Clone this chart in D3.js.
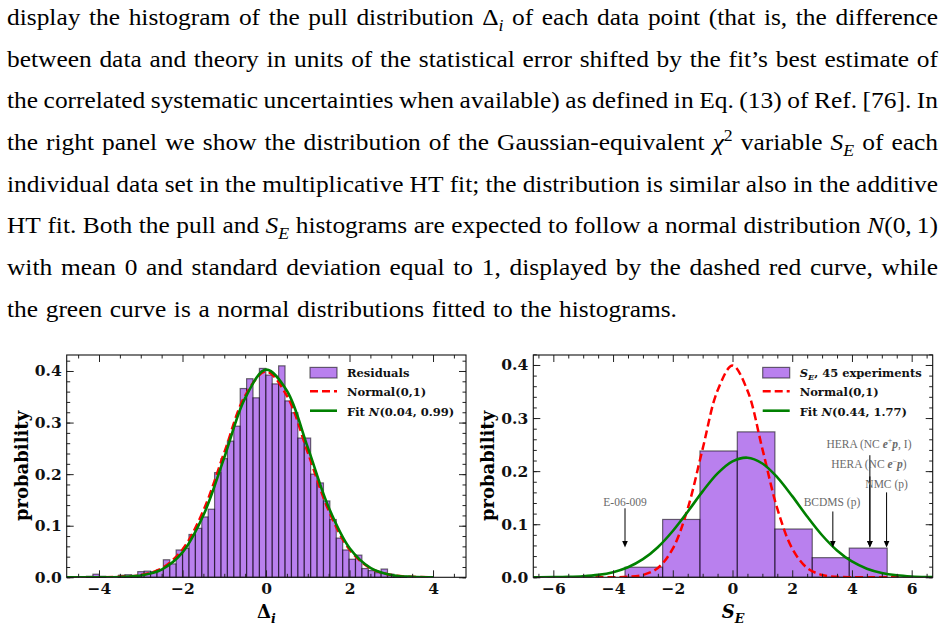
<!DOCTYPE html>
<html>
<head>
<meta charset="utf-8">
<script src="https://cdn.jsdelivr.net/npm/d3@7"></script>
<style>
  body { margin: 0; background: #fff; }
  svg { display: block; }
</style>
</head>
<body>
<svg id="page" width="945" height="629"></svg>
<script>
////////////////////////////////////////////////////////////////////////
// Values

// left panel: histogram of the pulls (density), 50 equal bins
let pullBinStart = -4.30;
let pullBinWidth = 0.1534;
let pullHeights = [
  0.002, 0.006, 0.002, 0.000, 0.000, 0.004, 0.005, 0.004, 0.011, 0.012,
  0.011, 0.015, 0.034, 0.026, 0.053, 0.056, 0.083, 0.095, 0.117, 0.132,
  0.203, 0.230, 0.264, 0.293, 0.366, 0.385, 0.348, 0.405, 0.392, 0.375,
  0.410, 0.342, 0.319, 0.270, 0.270, 0.200, 0.183, 0.148, 0.112, 0.076,
  0.053, 0.035, 0.043, 0.017, 0.013, 0.009, 0.016, 0.006, 0.003, 0.002
];

// right panel: S_E histogram of the 45 experiments
let seBinEdges = [-3.60, -2.34, -1.09, 0.16, 1.42, 2.67, 3.91, 5.18];
let seHeights = [0.019, 0.109, 0.238, 0.274, 0.091, 0.037, 0.055];

// curves, every 0.5
let pullCurveX = [-5, -4.5, -4, -3.5, -3, -2.5, -2, -1.5, -1, -0.5, 0,
                  0.5, 1, 1.5, 2, 2.5, 3, 3.5, 4];
let pullNormalY = [0, 0.00002, 0.0001, 0.0009, 0.0044, 0.0175, 0.054, 0.1295, 0.242, 0.352, 0.399,
                   0.352, 0.242, 0.1295, 0.054, 0.0175, 0.0044, 0.0009, 0.0001];
let pullFitY = [0, 0.00001, 0.0001, 0.0007, 0.0036, 0.015, 0.0482, 0.1202, 0.2321, 0.3473, 0.4027,
                0.3618, 0.2518, 0.1358, 0.0568, 0.0184, 0.0046, 0.0009, 0.0001];

let seCurveX = [-7, -6.5, -6, -5.5, -5, -4.5, -4, -3.5, -3, -2.5, -2, -1.5, -1, -0.5, 0,
                0.5, 1, 1.5, 2, 2.5, 3, 3.5, 4, 4.5, 5, 5.5, 6, 6.5, 7];
let seNormalY = [0, 0, 0, 0, 0, 0.00002, 0.0001, 0.0009, 0.0044, 0.0175, 0.054, 0.1295, 0.242, 0.352, 0.399,
                 0.352, 0.242, 0.1295, 0.054, 0.0175, 0.0044, 0.0009, 0.0001, 0.00002, 0, 0, 0, 0, 0];
let seFitY = [0.00003, 0.0001, 0.0003, 0.0008, 0.002, 0.0046, 0.0097, 0.0189, 0.0341, 0.0567, 0.0872,
              0.1236, 0.1619, 0.1958, 0.2185, 0.2253, 0.2144, 0.1884, 0.1529, 0.1145, 0.0792,
              0.0506, 0.0298, 0.0162, 0.0082, 0.0038, 0.0016, 0.0006, 0.0002];

// tick labels
let pullTicksX = [-4, -2, 0, 2, 4];
let seTicksX = [-6, -4, -2, 0, 2, 4, 6];
let probTicks = [0, 0.1, 0.2, 0.3, 0.4];

// legends
let pullLegend = ["Residuals", "Normal(0,1)", "Fit $N$(0.04, 0.99)"];
let seLegend = ["$S$_E, 45 experiments", "Normal(0,1)", "Fit $N$(0.44, 1.77)"];

// experiments marked with arrows in the S_E panel
let expLabels = ["E-06-009", "BCDMS (p)", "HERA (NC $e$^+$p$, I)", "HERA (NC $e$^−$p$)", "NMC (p)"];
let expX = [-3.6, 3.36, 4.6, 4.6, 5.16];
let expTextX = [-3.6, 3.33, 4.57, 4.57, 5.16];
let expTextY = [0.135, 0.135, 0.244, 0.205, 0.169];
let expTailY = [0.130, 0.124, 0.230, 0.190, 0.160];
let expTipY = 0.056;

// the paragraph above the figure
let textLines = [
  "display the histogram of the pull distribution Δ_i of each data point (that is, the difference",
  "between data and theory in units of the statistical error shifted by the fit’s best estimate of",
  "the correlated systematic uncertainties when available) as defined in Eq. (13) of Ref. [76]. In",
  "the right panel we show the distribution of the Gaussian-equivalent $χ$^2 variable $S$_E of each",
  "individual data set in the multiplicative HT fit; the distribution is similar also in the additive",
  "HT fit. Both the pull and $S$_E histograms are expected to follow a normal distribution $N$(0,~1)",
  "with mean 0 and standard deviation equal to 1, displayed by the dashed red curve, while",
  "the green curve is a normal distributions fitted to the histograms."
];

////////////////////////////////////////////////////////////////////////
// small helpers for "rich" text: $..$ italic, _x subscript, ^x superscript

function parseRich(s) {
  let segs = [];
  let ital = false;
  let i = 0;
  while (i < s.length) {
    let c = s[i];
    if (c === "$") { ital = !ital; i++; continue; }
    if (c === "_") { segs.push({t: s[i + 1], k: "sub"}); i += 2; continue; }
    if (c === "^") { segs.push({t: s[i + 1], k: "sup"}); i += 2; continue; }
    let t = c === "~" ? "\u2009" : c;
    let k = ital ? "it" : "rm";
    let last = segs[segs.length - 1];
    if (last && last.k === k) last.t += t;
    else segs.push({t: t, k: k});
    i++;
  }
  return segs;
}

function addRich(textSel, str, size, boldMath) {
  let shift = 0;
  parseRich(str).forEach(s => {
    let ts = textSel.append("tspan").text(s.t);
    let dy = 0;
    if (s.k === "sub") dy = size * 0.25;
    if (s.k === "sup") dy = -size * 0.4;
    ts.attr("dy", dy - shift);
    shift = dy;
    if (s.k === "sub" || s.k === "sup") ts.attr("font-size", size * 0.7);
    if (s.k === "it" || s.k === "sub") {
      ts.attr("font-style", "italic");
      if (boldMath) ts.attr("font-weight", "bold");
    }
  });
  return textSel;
}

let svg = d3.select("#page");

////////////////////////////////////////////////////////////////////////
// justified paragraph

let paraSize = 22.5;
let paraStretch = 1.13;   // Times is narrower than Computer Modern
let paraWidth = 931 / paraStretch;
let para = svg.append("g")
  .attr("transform", `translate(7,0) scale(${paraStretch},1)`)
  .attr("font-family", "Liberation Serif")
  .attr("font-size", paraSize)
  .attr("fill", "#000");

textLines.forEach((line, li) => {
  let words = line.split(" ");
  let y = 25 + li * 41.7;
  let nodes = words.map(w => addRich(para.append("text").attr("y", y), w, paraSize, false));
  let widths = nodes.map(n => n.node().getComputedTextLength());
  let gap = li < textLines.length - 1
    ? (paraWidth - d3.sum(widths)) / (words.length - 1)
    : paraSize * 0.3;
  let x = 0;
  nodes.forEach((n, i) => {
    n.attr("x", x);
    x += widths[i] + gap;
  });
});

////////////////////////////////////////////////////////////////////////
// one histogram panel

let purple = "#8a2be2";

function drawAxis(g, axis, transform) {
  let a = g.append("g").attr("transform", transform).call(axis);
  a.select(".domain").remove();
  a.attr("font-family", "DejaVu Serif").attr("font-size", 15.5).attr("font-weight", "bold");
  a.selectAll("line").attr("stroke", "#222").attr("stroke-width", 1);
  a.selectAll("text").attr("fill", "#111");
  return a;
}

function makePanel(cfg) {
  let x = d3.scaleLinear().domain(cfg.xDomain).range([cfg.left, cfg.right]);
  let y = d3.scaleLinear().domain(cfg.yDomain).range([cfg.bottom, cfg.top]);
  let g = svg.append("g");

  let clipId = cfg.id + "-clip";
  svg.append("clipPath").attr("id", clipId)
    .append("rect")
    .attr("x", cfg.left).attr("y", cfg.top)
    .attr("width", cfg.right - cfg.left).attr("height", cfg.bottom - cfg.top);

  // bars
  g.append("g")
    .selectAll("rect")
    .data(cfg.heights)
    .join("rect")
    .attr("x", (d, i) => x(cfg.edges[i]))
    .attr("width", (d, i) => x(cfg.edges[i + 1]) - x(cfg.edges[i]))
    .attr("y", d => y(d))
    .attr("height", d => y(0) - y(d))
    .attr("fill", purple).attr("fill-opacity", 0.6)
    .attr("stroke", "#000").attr("stroke-opacity", 0.55).attr("stroke-width", 1.2);

  // curves
  let line = d3.line()
    .x(d => x(d[0]))
    .y(d => y(d[1]))
    .curve(d3.curveCatmullRom);
  g.append("path")
    .datum(d3.zip(cfg.curveX, cfg.normalY))
    .attr("d", line)
    .attr("clip-path", `url(#${clipId})`)
    .attr("fill", "none").attr("stroke", "#ff0000")
    .attr("stroke-width", 2.5).attr("stroke-dasharray", "8,4");
  g.append("path")
    .datum(d3.zip(cfg.curveX, cfg.fitY))
    .attr("d", line)
    .attr("clip-path", `url(#${clipId})`)
    .attr("fill", "none").attr("stroke", "#008000")
    .attr("stroke-width", 2.6);

  // ticks on all four sides, pointing in
  let xMinor = d3.range(-7, 7.01, 0.5)
    .filter(v => !cfg.xTicks.includes(v) && v > cfg.xDomain[0] && v < cfg.xDomain[1]);
  let yMinor = d3.range(0, 0.44, 0.02);
  drawAxis(g, d3.axisBottom(x).tickValues(cfg.xTicks).tickSize(-7).tickPadding(6)
    .tickFormat(d3.format("d")), `translate(0,${cfg.bottom})`);
  drawAxis(g, d3.axisBottom(x).tickValues(xMinor).tickSize(-3.5).tickFormat(""), `translate(0,${cfg.bottom})`);
  drawAxis(g, d3.axisTop(x).tickValues(cfg.xTicks).tickSize(-7).tickFormat(""), `translate(0,${cfg.top})`);
  drawAxis(g, d3.axisTop(x).tickValues(xMinor).tickSize(-3.5).tickFormat(""), `translate(0,${cfg.top})`);
  drawAxis(g, d3.axisLeft(y).tickValues(probTicks).tickSize(-7).tickPadding(5)
    .tickFormat(d3.format(".1f")), `translate(${cfg.left},0)`);
  drawAxis(g, d3.axisLeft(y).tickValues(yMinor).tickSize(-3.5).tickFormat(""), `translate(${cfg.left},0)`);
  drawAxis(g, d3.axisRight(y).tickValues(probTicks).tickSize(-7).tickFormat(""), `translate(${cfg.right},0)`);
  drawAxis(g, d3.axisRight(y).tickValues(yMinor).tickSize(-3.5).tickFormat(""), `translate(${cfg.right},0)`);

  // frame
  g.append("rect")
    .attr("x", cfg.left).attr("y", cfg.top)
    .attr("width", cfg.right - cfg.left).attr("height", cfg.bottom - cfg.top)
    .attr("fill", "none").attr("stroke", "#111").attr("stroke-width", 1.1);

  // axis labels
  g.append("text")
    .attr("transform", `translate(${cfg.left - 39},466) rotate(-90)`)
    .attr("text-anchor", "middle")
    .attr("font-family", "DejaVu Serif").attr("font-weight", "bold").attr("font-size", 18)
    .text("probability");
  addRich(g.append("text")
    .attr("x", (cfg.left + cfg.right) / 2).attr("y", 618)
    .attr("text-anchor", "middle")
    .attr("font-family", "DejaVu Serif").attr("font-weight", "bold").attr("font-size", 18),
    cfg.xLabel, 18, true);

  // legend
  let lx = cfg.legendX;
  let rows = [372.7, 392.2, 411.7];
  g.append("rect")
    .attr("x", lx).attr("y", rows[0] - 5.3).attr("width", 27).attr("height", 10.6)
    .attr("fill", purple).attr("fill-opacity", 0.6)
    .attr("stroke", "#000").attr("stroke-opacity", 0.55).attr("stroke-width", 1.2);
  g.append("line")
    .attr("x1", lx).attr("x2", lx + 27).attr("y1", rows[1] - 1).attr("y2", rows[1] - 1)
    .attr("stroke", "#ff0000").attr("stroke-width", 2.5).attr("stroke-dasharray", "8,4");
  g.append("line")
    .attr("x1", lx).attr("x2", lx + 27).attr("y1", rows[2] - 1).attr("y2", rows[2] - 1)
    .attr("stroke", "#008000").attr("stroke-width", 2.6);
  cfg.legend.forEach((lab, i) => {
    addRich(g.append("text")
      .attr("x", lx + 37).attr("y", rows[i] + 4)
      .attr("font-family", "DejaVu Serif").attr("font-weight", "bold").attr("font-size", 11.5)
      .attr("fill", "#111"),
      lab, 11.5, true);
  });

  return {g: g, x: x, y: y};
}

////////////////////////////////////////////////////////////////////////
// Setup panels

let pullEdges = d3.range(pullHeights.length + 1).map(i => pullBinStart + i * pullBinWidth);

let plot1 = makePanel({
  id: "pull",
  left: 66.7, right: 466, top: 355, bottom: 577.3,
  xDomain: [-4.774, 4.79], yDomain: [0, 0.431],
  xTicks: pullTicksX,
  edges: pullEdges, heights: pullHeights,
  curveX: pullCurveX, normalY: pullNormalY, fitY: pullFitY,
  xLabel: "Δ_i",
  legend: pullLegend, legendX: 310
});

let plot2 = makePanel({
  id: "se",
  left: 533.3, right: 932.7, top: 355, bottom: 577.3,
  xDomain: [-6.671, 6.704], yDomain: [0, 0.4188],
  xTicks: seTicksX,
  edges: seBinEdges, heights: seHeights,
  curveX: seCurveX, normalY: seNormalY, fitY: seFitY,
  xLabel: "$S$_E",
  legend: seLegend, legendX: 762.7
});

////////////////////////////////////////////////////////////////////////
// arrows pointing at individual experiments

let ann = plot2.g.append("g");
expLabels.forEach((lab, i) => {
  let ax = plot2.x(expX[i]);
  let tail = plot2.y(expTailY[i]);
  let tip = plot2.y(expTipY);
  ann.append("line")
    .attr("x1", ax).attr("x2", ax).attr("y1", tail).attr("y2", tip - 5)
    .attr("stroke", "#000").attr("stroke-width", 1);
  ann.append("path")
    .attr("d", `M${ax},${tip} L${ax - 2.8},${tip - 6.5} L${ax + 2.8},${tip - 6.5} Z`)
    .attr("fill", "#000");
  addRich(ann.append("text")
    .attr("x", plot2.x(expTextX[i])).attr("y", plot2.y(expTextY[i]))
    .attr("text-anchor", "middle")
    .attr("font-family", "Liberation Serif").attr("font-size", 11.5)
    .attr("fill", "#6a6a6a"),
    lab, 11.5, true);
});
</script>
</body>
</html>
